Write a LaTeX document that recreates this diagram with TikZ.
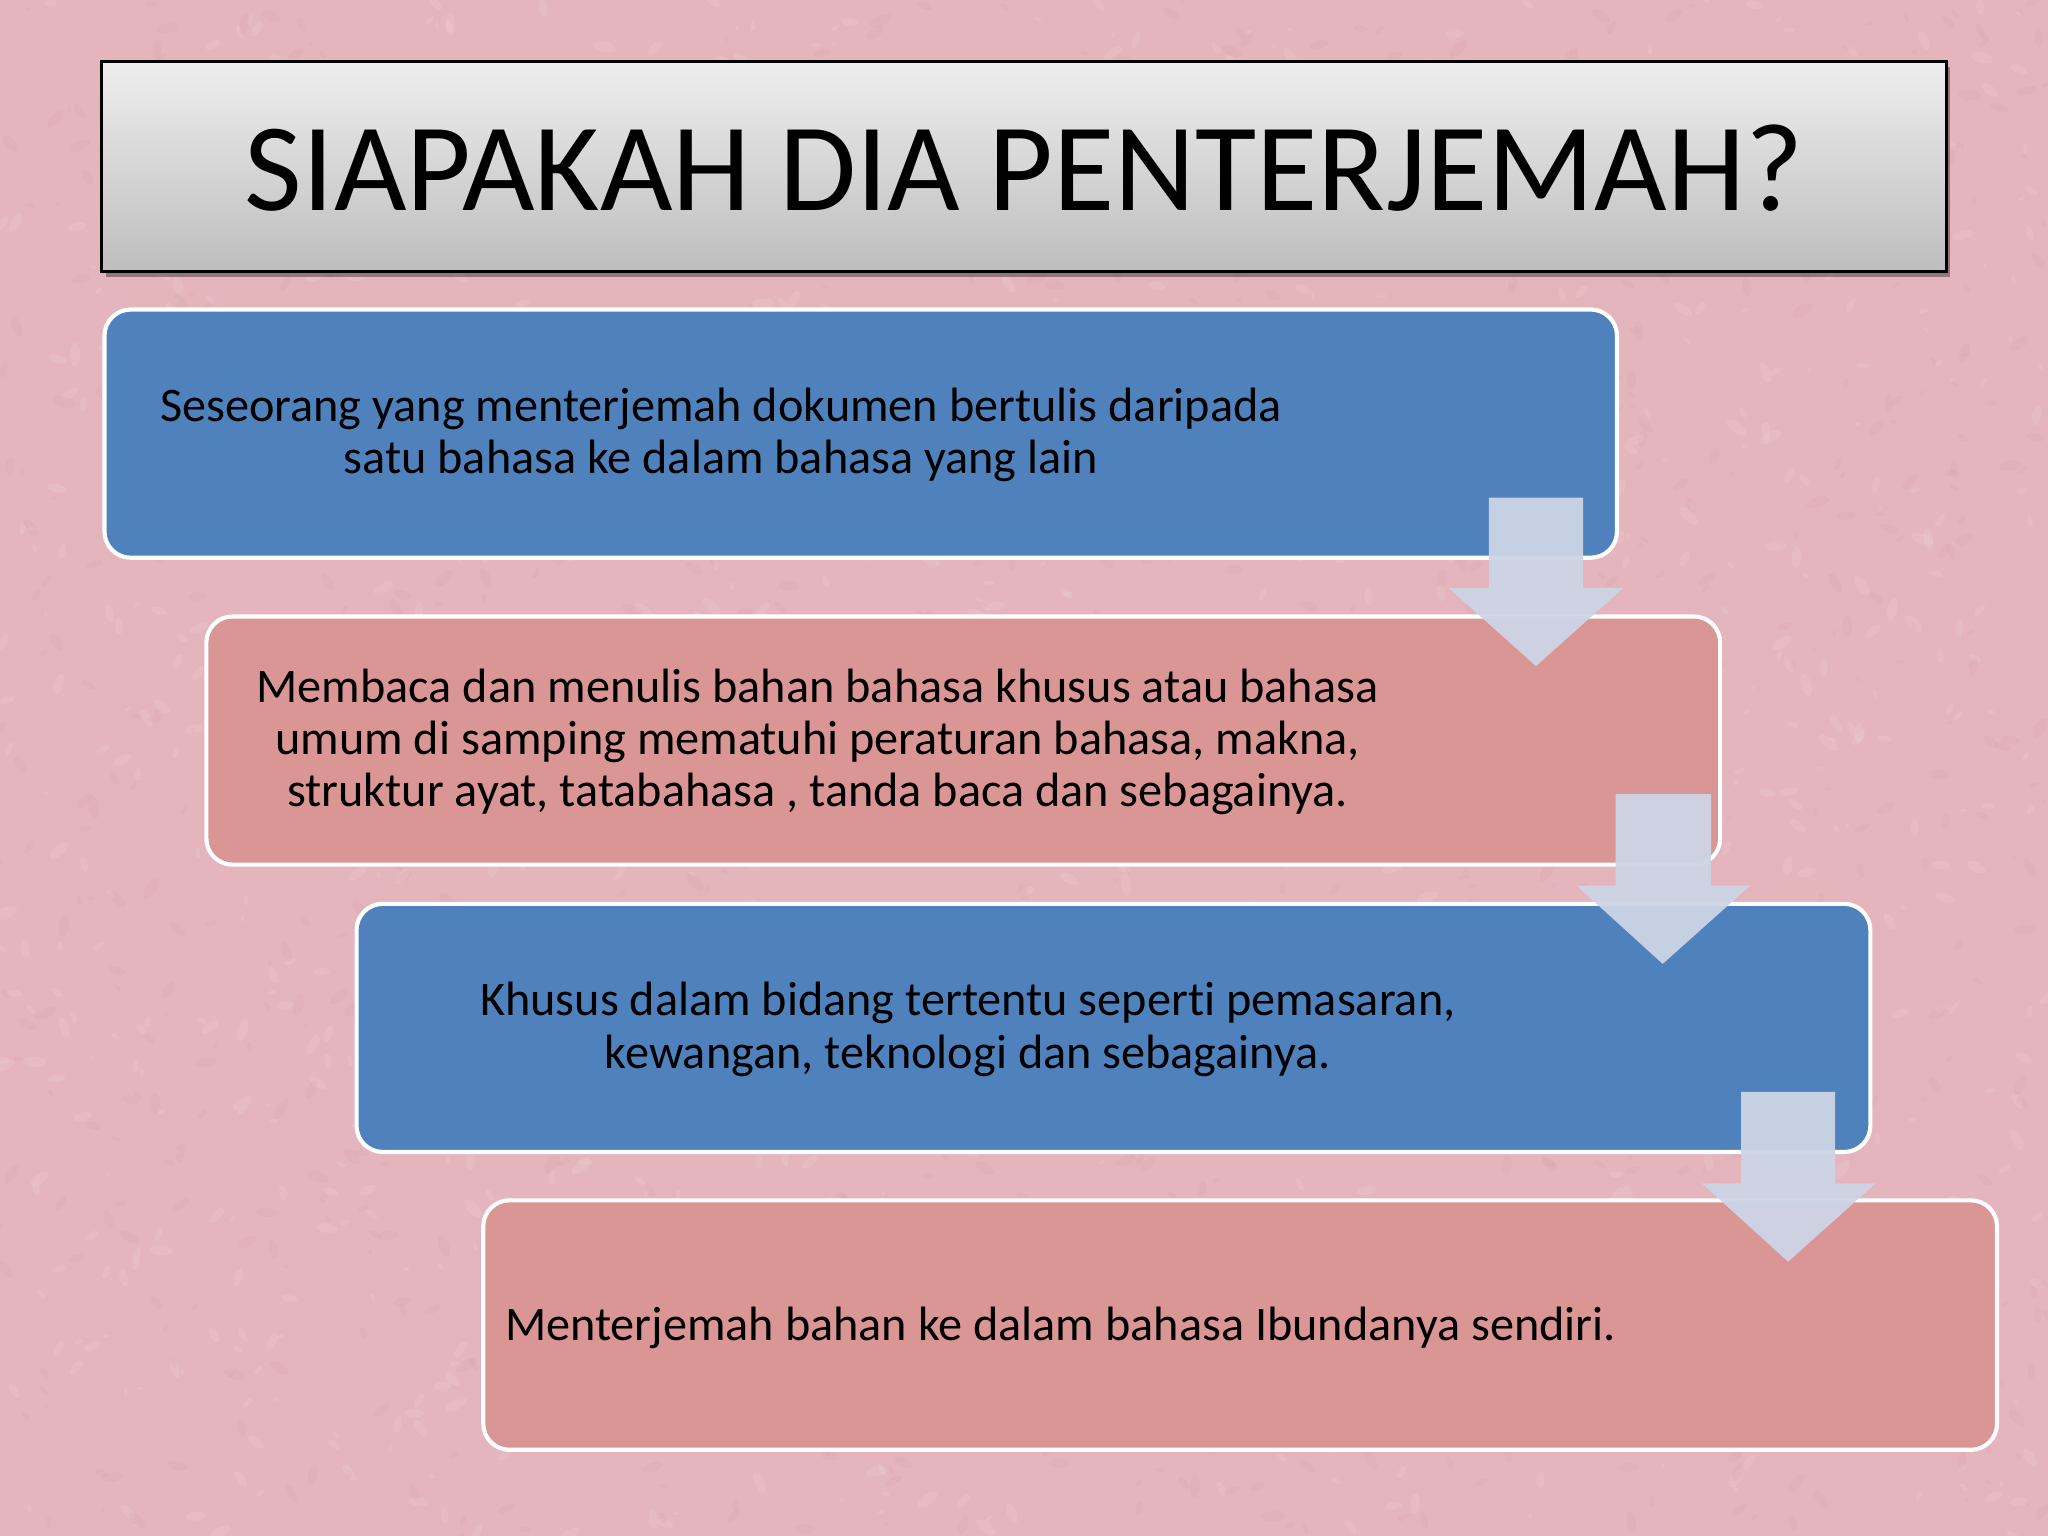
\documentclass[tikz,border=0pt]{standalone}
\usepackage{fontspec}
\setmainfont{Carlito}[Ligatures=NoCommon]
\usetikzlibrary{calc}
\definecolor{bgpink}{RGB}{228,181,189}
\definecolor{bgdark}{RGB}{196,135,146}
\definecolor{boxblue}{RGB}{79,129,189}
\definecolor{boxpink}{RGB}{218,149,149}
\definecolor{arrowfill}{RGB}{205,213,230}
\definecolor{titletop}{RGB}{238,238,238}
\definecolor{titlebot}{RGB}{190,190,190}
\tikzset{
  stepbox/.style={draw=white, line width=0.9pt, rounded corners=0.2cm},
  bluebox/.style={stepbox, fill=boxblue},
  pinkbox/.style={stepbox, fill=boxpink},
  bodytext/.style={font=\fontsize{10.5}{11.4}\selectfont, align=center, text=black, inner sep=0pt},
  flowarrow/.style={fill=arrowfill, fill opacity=0.94, draw=none},
  titlebox/.style={draw=black, line width=0.6pt, top color=titletop, bottom color=titlebot}
}
\begin{document}
\begin{tikzpicture}[x=0.01cm,y=-0.01cm]
% background
\fill[bgpink] (0,0) rectangle (1568,1176);
\useasboundingbox (0,0) rectangle (1568,1176);
\pgfmathsetseed{42}
\foreach \i in {1,...,2200}{
  \pgfmathsetmacro\rx{rnd*1568}
  \pgfmathsetmacro\ry{rnd*1176}
  \pgfmathsetmacro\rr{2+rnd*7}
  \pgfmathsetmacro\ra{rnd*180}
  \pgfmathsetmacro\rc{rnd}
  \ifdim\rc pt>0.5pt
    \fill[white,opacity=0.09,rotate around={\ra:(\rx,\ry)}] (\rx,\ry) ellipse [x radius=\rr, y radius=0.45*\rr];
  \else
    \fill[bgdark,opacity=0.09,rotate around={\ra:(\rx,\ry)}] (\rx,\ry) ellipse [x radius=\rr, y radius=0.45*\rr];
  \fi
}
% title
\fill[black,opacity=0.35] (81,51) rectangle (1493,212);
\path[titlebox] (78,47) rectangle (1490,208);
\node[font=\fontsize{27.3}{30}\selectfont, inner sep=0pt] (title) at (784,129) {SIAPAKAH DIA PENTERJEMAH?};
% boxes
\path[bluebox] (80,237) rectangle (1238,427);
\node (b1) at (659,332) [minimum width=11.58cm, minimum height=1.9cm] {};
\node[bodytext] (t1) at (552,333) {Seseorang yang menterjemah dokumen bertulis daripada\\satu bahasa ke dalam bahasa yang lain};
\path[pinkbox] (158,472) rectangle (1317,662);
\node (b2) at (737,567) [minimum width=11.59cm, minimum height=1.9cm] {};
\node[bodytext] (t2) at (626,568) {Membaca dan menulis bahan bahasa khusus atau bahasa\\umum di samping mematuhi peraturan bahasa, makna,\\struktur ayat, tatabahasa , tanda baca dan sebagainya.};
\path[bluebox] (273,692) rectangle (1432,882);
\node (b3) at (852,787) [minimum width=11.59cm, minimum height=1.9cm] {};
\node[bodytext] (t3) at (741,788) {Khusus dalam bidang tertentu seperti pemasaran,\\kewangan, teknologi dan sebagainya.};
\path[pinkbox] (370,919) rectangle (1529,1110);
\node (b4) at (949,1014) [minimum width=11.59cm, minimum height=1.91cm] {};
\node[bodytext] (t4) at (812,1017) {Menterjemah bahan ke dalam bahasa Ibundanya sendiri.};
% arrows
\path[flowarrow] (1140,381) -- (1212,381) -- (1212,450) -- (1243,450) -- (1176,510) -- (1109,450) -- (1140,450) -- cycle;
\path[flowarrow] (1237,608) -- (1310,608) -- (1310,678) -- (1340,678) -- (1273,738) -- (1207,678) -- (1237,678) -- cycle;
\path[flowarrow] (1333,836) -- (1405,836) -- (1405,906) -- (1436,906) -- (1369,966) -- (1303,906) -- (1333,906) -- cycle;
\end{tikzpicture}
\end{document}
